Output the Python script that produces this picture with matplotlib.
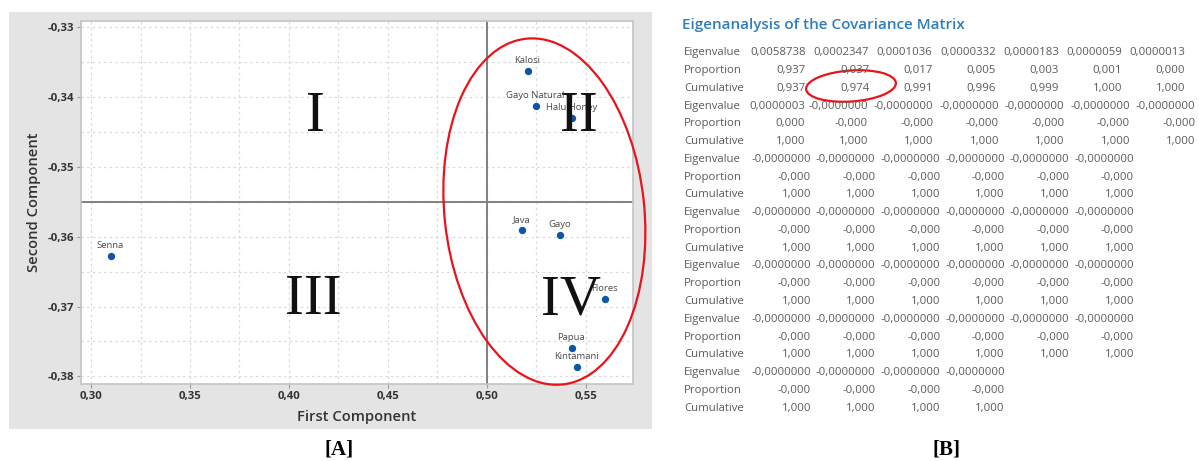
import matplotlib
matplotlib.use("Agg")
import matplotlib.pyplot as plt
from matplotlib.patches import Ellipse, Rectangle
from matplotlib.transforms import IdentityTransform
from matplotlib.ticker import MultipleLocator, FuncFormatter

# --- panel A: score plot ---
names = ["Senna", "Kalosi", "Gayo Natural", "Halu Honey", "Java", "Gayo",
         "Flores", "Papua", "Kintamani"]
first_comp = [0.3102, 0.5206, 0.5247, 0.5431, 0.5178, 0.5372, 0.5597, 0.5429, 0.5455]
second_comp = [-0.3628, -0.3363, -0.3413, -0.3430, -0.3590, -0.3598, -0.3689, -0.3760, -0.3786]

quadrants = ["I", "II", "III", "IV"]
quad_x = [0.4132, 0.5463, 0.4122, 0.5428]
quad_y = [-0.3429, -0.3429, -0.3691, -0.3691]

# --- panel B: eigenanalysis table ---
eigenvalues = [0.0058738, 0.0002347, 0.0001036, 0.0000332, 0.0000183, 0.0000059,
               0.0000013, 0.0000003] + [-0.0] * 34
proportion = [0.937, 0.037, 0.017, 0.005, 0.003, 0.001, 0.000, 0.000] + [-0.0] * 34
cumulative = [0.937, 0.974, 0.991, 0.996, 0.999, 1.000, 1.000] + [1.000] * 35
group_sizes = [7, 7, 6, 6, 6, 6, 4]

W, H = 1199, 461
fig = plt.figure(figsize=(W / 100, H / 100), dpi=100)
fig.patch.set_facecolor("white")


def fx(px):
    return px / W


def fy(py):
    return 1 - py / H


def comma(v, nd):
    return f"{v:.{nd}f}".replace(".", ",")


# gray panel behind the plot
fig.add_artist(Rectangle((fx(9), fy(429)), fx(643), 417 / H, transform=fig.transFigure,
                         facecolor="#e4e4e4", edgecolor="none", zorder=0))

ax = fig.add_axes([fx(81), fy(384), fx(552), 363 / H])
ax.set_facecolor("white")
ax.set_xlim(0.2949, 0.5739)
ax.set_ylim(-0.3811, -0.3291)
ax.xaxis.set_major_locator(MultipleLocator(0.05))
ax.xaxis.set_minor_locator(MultipleLocator(0.025))
ax.yaxis.set_major_locator(MultipleLocator(0.01))
ax.yaxis.set_minor_locator(MultipleLocator(0.005))
ax.xaxis.set_major_formatter(FuncFormatter(lambda v, p: comma(v, 2)))
ax.yaxis.set_major_formatter(FuncFormatter(lambda v, p: comma(v, 2)))
ax.grid(which="both", color="#dadada", linestyle=(0, (2, 2.5)), linewidth=0.9)
ax.set_axisbelow(True)
ax.tick_params(which="major", length=3, color="#9a9a9a", labelsize=8.2,
               labelcolor="#333333", pad=2)
ax.tick_params(which="minor", length=0)
for lab in ax.get_xticklabels() + ax.get_yticklabels():
    lab.set_fontfamily("Open Sans")
    lab.set_fontweight("bold")
for s in ax.spines.values():
    s.set_color("#c4c4c4")
    s.set_linewidth(1.2)

ax.axvline(0.50, color="#808080", linewidth=1.4, zorder=2)
ax.axhline(-0.355, color="#808080", linewidth=1.4, zorder=2)

ax.scatter(first_comp, second_comp, s=28, color="#0d56a6", zorder=4, linewidths=0)
for n, x, y in zip(names, first_comp, second_comp):
    ax.annotate(n, (x, y), xytext=(-0.5, 7.5), textcoords="offset points",
                ha="center", va="center", fontsize=6.8, color="#4a4a4a",
                family="Open Sans", zorder=5)

for q, x, y in zip(quadrants, quad_x, quad_y):
    ax.text(x, y, q, ha="center", va="center", fontsize=41, family="Liberation Serif",
            color="#111111", zorder=6)

ax.set_xlabel("First Component", fontsize=10.6, family="Open Sans", fontweight="semibold",
              color="#333333", labelpad=6)
ax.set_ylabel("Second Component", fontsize=10.6, family="Open Sans", fontweight="semibold",
              color="#333333", labelpad=5)

# red ellipse around the right-hand cluster (data-space centre and extent)
ell_c = (0.5291, -0.3564)
ell_w, ell_h = 0.101, 0.0498
cx, cy = ax.transData.transform(ell_c)
x0, y0 = ax.transData.transform((0, 0))
x1, y1 = ax.transData.transform((ell_w, ell_h))
ax.add_artist(Ellipse((cx, cy), x1 - x0, y1 - y0, angle=6, transform=IdentityTransform(),
                      fill=False, edgecolor="#e8141b", linewidth=1.6, clip_on=False, zorder=7))

# --- table ---
fig.text(fx(682), fy(25), "Eigenanalysis of the Covariance Matrix", fontsize=11,
         family="Open Sans", fontweight="semibold", color="#2e7dbe", va="center")

row_h = 17.77
row0 = 52.7
txt_kw = dict(fontsize=8.2, family="Open Sans", color="#5a5a5a", va="center")
start = 0
for g, n in enumerate(group_sizes):
    if g == 0:
        edges = [806 + 63.2 * k for k in range(n)]
    elif g == 1:
        edges = [805] + [868 + 65.5 * k for k in range(n - 1)]
    else:
        edges = [811 + 64.6 * k for k in range(n)]
    rows = [("Eigenvalue", [comma(v, 7) for v in eigenvalues[start:start + n]]),
            ("Proportion", [comma(v, 3) for v in proportion[start:start + n]]),
            ("Cumulative", [comma(v, 3) for v in cumulative[start:start + n]])]
    for r, (label, vals) in enumerate(rows):
        y = row0 + row_h * (3 * g + r)
        fig.text(fx(684), fy(y), label, ha="left", **txt_kw)
        for e, s in zip(edges, vals):
            fig.text(fx(e), fy(y), s, ha="right", **txt_kw)
    start += n

# red ellipse around the cumulative value of the second component
fig.add_artist(Ellipse((851, H - 86), 90, 31, angle=4, transform=IdentityTransform(),
                       fill=False, edgecolor="#e8141b", linewidth=1.6))

fig.text(fx(339), fy(449), "[A]", ha="center", va="center", fontsize=15,
         family="Liberation Serif", fontweight="bold")
fig.text(fx(946), fy(449), "[B]", ha="center", va="center", fontsize=15,
         family="Liberation Serif", fontweight="bold")

fig.savefig("out.png", dpi=100)
